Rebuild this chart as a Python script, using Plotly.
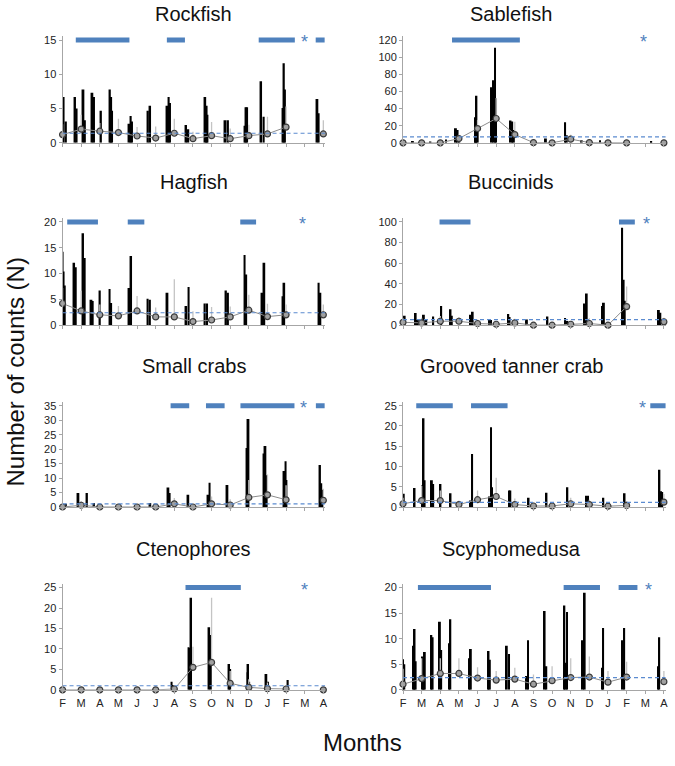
import plotly.graph_objects as go

months = ["F", "M", "A", "M", "J", "J", "A", "S", "O", "N", "D", "J", "F", "M", "A"]
month_idx = list(range(15))

# ---- Rockfish
rockfish_spike_x = [0.05, 0.18, 0.67, 0.75, 1.12, 1.2, 1.6, 1.69, 2.06, 2.54, 2.61, 2.66, 3.59, 3.66, 3.73,
                    4.58, 4.7, 5.63, 5.7, 5.77, 6.63, 6.75, 7.66, 7.73, 7.78, 8.74, 8.88, 9.77, 9.84, 9.91,
                    10.66, 10.8, 11.81, 11.88, 11.94, 13.68, 13.75]
rockfish_spike_y = [6.7, 3.1, 6.7, 5.0, 7.8, 3.3, 7.3, 6.7, 4.7, 7.8, 6.7, 4.7, 2.8, 3.9, 3.1,
                    4.7, 5.4, 5.4, 6.7, 5.8, 2.6, 2.0, 6.7, 5.4, 4.1, 3.3, 3.3, 2.5, 5.2, 5.2,
                    9.0, 3.8, 5.1, 11.6, 7.8, 6.4, 4.3]
rockfish_mean = [1.2, 2.0, 1.7, 1.5, 1.0, 0.7, 1.4, 0.6, 1.05, 0.6, 1.05, 1.3, 2.3, None, 1.3]
rockfish_sd = [1.5, 2.1, 1.2, 2.0, 1.3, 1.7, 2.1, 1.0, 2.0, 1.5, 1.6, 2.5, 3.0, None, 2.0]
rockfish_overall = 1.4
rockfish_sig_start = [0.71, 5.6, 10.53, 13.59]
rockfish_sig_end = [3.59, 6.57, 12.47, 14.07]
rockfish_star = 13.0

# ---- Sablefish
sablefish_spike_x = [0.53, 1.47, 2.31, 2.84, 2.93, 3.02, 3.87, 3.91, 3.94, 4.01, 4.76, 4.87, 4.94, 4.99,
                     5.77, 5.86, 5.95, 7.67, 8.7, 8.79, 9.59, 10.57, 13.32]
sablefish_spike_y = [2, 1.5, 4, 17, 15, 8, 9, 30, 55, 17, 65, 73, 111, 52,
                     26, 25, 15, 5, 24, 9, 3, 3, 2]
sablefish_mean = [0, 0, 0, 5, 16.7, 28.4, 9.7, 0.3, 0, 4.3, 0.3, 0, 0, None, 0]
sablefish_sd = [1, 1, 1, 4.5, 10, 24, 15, 2, 1, 5, 2, 1, 1, None, 1]
sablefish_overall = 7.0
sablefish_sig_start = [2.63]
sablefish_sig_end = [6.27]
sablefish_star = 12.9

# ---- Hagfish
hagfish_spike_x = [0.0, 0.05, 0.12, 0.62, 0.71, 1.1, 1.19, 1.55, 1.62, 2.0, 2.52, 2.61, 3.59, 3.68,
                   4.56, 4.69, 5.63, 6.64, 6.77, 7.62, 7.76, 8.77, 8.88, 9.77, 9.86, 10.73, 10.83,
                   11.81, 11.9, 13.75, 13.84]
hagfish_spike_y = [14.2, 10.4, 7.7, 12.1, 11.2, 17.8, 13.0, 4.9, 4.7, 6.7, 7.0, 4.3, 7.2, 13.4,
                   5.1, 4.9, 6.3, 3.7, 7.4, 4.2, 4.2, 6.7, 6.3, 13.6, 9.8, 6.3, 12.1,
                   5.6, 8.2, 8.2, 6.3]
hagfish_mean = [4.2, 2.75, 2.0, 1.8, 2.75, 1.6, 1.6, 0.7, 1.0, 1.6, 2.9, 1.66, 2.0, None, 2.0]
hagfish_sd = [3.0, 3.9, 2.0, 1.9, 2.9, 1.8, 7.3, 2.0, 2.5, 2.0, 3.0, 2.5, 2.0, None, 2.0]
hagfish_overall = 2.4
hagfish_sig_start = [0.25, 3.5, 9.54]
hagfish_sig_end = [1.9, 4.39, 10.39]
hagfish_star = 12.9

# ---- Buccinids
buccinids_spike_x = [0.09, 0.68, 0.8, 1.12, 1.25, 1.62, 2.05, 2.55, 2.62, 3.62, 3.74, 4.65, 4.72, 5.65, 5.72,
                     6.65, 7.75, 8.7, 8.82, 9.75, 9.86, 10.7, 10.78, 11.76, 11.84, 11.9, 13.73, 13.81]
buccinids_spike_y = [9, 11.7, 5, 10, 6, 8.5, 18.6, 15.5, 9, 10, 13, 5, 5, 10.7, 8,
                     5.4, 8.5, 7, 4, 21, 30.6, 18.6, 21.8, 94.3, 44, 23.7, 14.8, 12]
buccinids_mean = [2.8, 2.2, 3.8, 3.8, 1.6, 0.9, 2.2, 0, 0, 0.9, 1.6, 0, 18, None, 3.2]
buccinids_sd = [4, 5, 5, 4, 4, 3, 4, 2, 2, 3, 5, 3, 19.5, None, 4]
buccinids_overall = 5.4
buccinids_sig_start = [1.96, 11.59]
buccinids_sig_end = [3.62, 12.44]
buccinids_star = 13.05

# ---- Small crabs
crabs_spike_x = [0.18, 0.85, 1.31, 1.69, 4.71, 5.68, 5.75, 6.75, 7.82, 7.89, 8.85, 9.88, 9.93, 9.98,
                 10.8, 10.89, 10.96, 11.9, 11.97, 12.02, 13.82, 13.89, 13.95]
crabs_spike_y = [1.1, 4.8, 4.8, 1.4, 1.4, 6.7, 4.8, 4.2, 4.2, 8.4, 7.6, 20.4, 13.6, 30.4,
                 18.5, 21.1, 11.0, 12.4, 15.8, 9.3, 14.5, 8.2, 6.0]
crabs_mean = [0, 0.6, 0, 0, 0, 0, 1.1, 0, 1.1, 0.7, 3.3, 4.2, 2.5, None, 2.3]
crabs_sd = [0.5, 1.5, 0.3, 0.3, 0.3, 0.3, 2, 0.5, 2.5, 2, 6, 7, 5, None, 4]
crabs_overall = 1.1
crabs_sig_start = [5.8, 7.7, 9.55, 13.6]
crabs_sig_end = [6.8, 8.7, 12.45, 14.07]
crabs_star = 12.95

# ---- Grooved tanner crab
tanner_spike_x = [0.04, 0.62, 1.02, 1.1, 1.16, 1.55, 1.62, 2.01, 2.55, 3.62, 3.71, 4.63, 4.72, 4.78,
                  5.7, 5.76, 6.74, 7.7, 8.82, 9.82, 9.93, 10.75, 11.89, 13.76, 13.85, 13.91]
tanner_spike_y = [3.3, 4.7, 5.3, 21.9, 6.6, 6.6, 5.7, 5.7, 3.4, 1.6, 13.1, 2.6, 19.7, 4.9,
                  4.1, 4.1, 2.3, 3.5, 4.9, 2.8, 2.8, 2.3, 3.4, 9.2, 3.9, 3.7]
tanner_mean = [0.8, 1.6, 1.6, 0.6, 1.8, 2.6, 0.6, 0.25, 0.25, 0.8, 0.6, 0.2, 0.4, None, 1.2]
tanner_sd = [1.5, 3.6, 2.5, 1.0, 2.3, 4.6, 1.5, 0.8, 0.8, 1.5, 1.2, 0.8, 1.0, None, 2.0]
tanner_overall = 1.15
tanner_sig_start = [0.71, 3.65, 13.27]
tanner_sig_end = [2.67, 5.61, 14.1]
tanner_star = 12.83

# ---- Ctenophores
cteno_spike_x = [5.85, 5.92, 6.77, 6.83, 6.9, 7.87, 7.96, 8.94, 9.0, 9.93, 9.96, 10.02, 10.94, 11.03, 12.09]
cteno_spike_y = [2.0, 1.2, 10.4, 10.2, 22.5, 15.3, 13.4, 6.3, 5.1, 4.3, 6.3, 2.0, 3.9, 2.0, 2.4]
cteno_mean = [0, 0, 0, 0, 0, 0, 0.2, 5.5, 6.7, 1.6, 0.6, 0.3, 0.2, None, 0]
cteno_sd = [0, 0, 0, 0, 0, 0, 1.0, 5.0, 15.8, 3.0, 2.0, 1.5, 1.0, None, 0]
cteno_overall = 1.0
cteno_sig_start = [6.6]
cteno_sig_end = [9.57]
cteno_star = 12.98

# ---- Scyphomedusa
scypho_spike_x = [0.0, 0.07, 0.57, 0.62, 0.68, 1.06, 1.12, 1.17, 1.52, 1.59, 1.98, 2.05, 2.47, 2.54,
                  3.57, 3.64, 4.59, 4.66, 5.57, 5.69, 6.63, 6.71, 7.6, 7.69, 8.66, 8.73, 8.8,
                  9.65, 9.75, 10.69, 10.74, 11.78, 11.87, 13.69, 13.75]
scypho_spike_y = [6.0, 5.0, 8.6, 11.9, 5.6, 6.5, 5.0, 7.4, 10.7, 10.3, 13.3, 7.8, 9.1, 13.8,
                  6.2, 8.0, 7.6, 5.9, 8.6, 7.0, 2.7, 9.7, 15.4, 4.6, 16.5, 5.3, 15.2,
                  9.7, 19.0, 4.3, 12.1, 9.7, 12.1, 4.6, 10.3]
scypho_mean = [1.1, 2.2, 3.2, 3.2, 2.3, 1.9, 2.1, 1.1, 1.8, 2.4, 2.5, 1.5, 2.5, None, 1.6]
scypho_sd = [3, 4, 3, 3.0, 2.1, 1.8, 2.2, 1.9, 2.8, 3.8, 4.0, 2.2, 3, None, 2.1]
scypho_overall = 2.4
scypho_sig_start = [0.8, 8.62, 11.57]
scypho_sig_end = [4.72, 10.57, 12.58]
scypho_star = 13.2

titles = ["Rockfish", "Sablefish", "Hagfish", "Buccinids",
          "Small crabs", "Grooved tanner crab", "Ctenophores", "Scyphomedusa"]
y_max = [15, 120, 20, 100, 35, 25, 25, 20]
y_step = [5, 20, 5, 20, 5, 5, 5, 5]

panels = [
    (rockfish_spike_x, rockfish_spike_y, rockfish_mean, rockfish_sd, rockfish_overall,
     rockfish_sig_start, rockfish_sig_end, rockfish_star),
    (sablefish_spike_x, sablefish_spike_y, sablefish_mean, sablefish_sd, sablefish_overall,
     sablefish_sig_start, sablefish_sig_end, sablefish_star),
    (hagfish_spike_x, hagfish_spike_y, hagfish_mean, hagfish_sd, hagfish_overall,
     hagfish_sig_start, hagfish_sig_end, hagfish_star),
    (buccinids_spike_x, buccinids_spike_y, buccinids_mean, buccinids_sd, buccinids_overall,
     buccinids_sig_start, buccinids_sig_end, buccinids_star),
    (crabs_spike_x, crabs_spike_y, crabs_mean, crabs_sd, crabs_overall,
     crabs_sig_start, crabs_sig_end, crabs_star),
    (tanner_spike_x, tanner_spike_y, tanner_mean, tanner_sd, tanner_overall,
     tanner_sig_start, tanner_sig_end, tanner_star),
    (cteno_spike_x, cteno_spike_y, cteno_mean, cteno_sd, cteno_overall,
     cteno_sig_start, cteno_sig_end, cteno_star),
    (scypho_spike_x, scypho_spike_y, scypho_mean, scypho_sd, scypho_overall,
     scypho_sig_start, scypho_sig_end, scypho_star),
]

W, H = 675, 766
BLUE = "#4F81BD"
AXIS = "#a6a6a6"
FONT = "Liberation Sans, Arial, sans-serif"
X_END = 14.1
PAD = 1.035

# pixel layout of the plot areas (value 0 and value max), per row / column
col_px = [(60, 324.6), (403, 667.7)]
row_px = [(37.5, 141.5), (221.5, 326), (407.5, 510), (591.5, 695)]
title_px = [11, 181, 367, 552]
title_cx = [192, 512]

fig = go.Figure()
layout = {}

for i, (sx, sy, mean, sd, overall, s0, s1, star) in enumerate(panels):
    r, c = divmod(i, 2)
    n = "" if i == 0 else str(i + 1)
    xa, ya = "x" + n, "y" + n
    top, bot = row_px[r]
    h = (bot - top) * PAD
    left, right = col_px[c]
    ymax = y_max[i]

    fig.add_trace(go.Scatter(
        x=month_idx, y=mean, mode="markers", xaxis=xa, yaxis=ya,
        marker=dict(size=1, opacity=0),
        error_y=dict(type="data", symmetric=False, array=sd,
                     arrayminus=[0] * len(sd), color="#c4c4c4", thickness=1.3, width=0),
        hoverinfo="skip"))
    fig.add_trace(go.Bar(
        x=sx, y=sy, width=0.1, xaxis=xa, yaxis=ya,
        marker=dict(color="#000000", line=dict(width=0))))
    fig.add_trace(go.Scatter(
        x=month_idx, y=mean, mode="lines+markers", xaxis=xa, yaxis=ya, cliponaxis=False,
        line=dict(color="#8c8c8c", width=1),
        marker=dict(size=6, color="#a0a0a0", line=dict(color="#3a3a3a", width=1.2))))

    fig.add_shape(type="line", xref=xa, yref=ya, x0=0, x1=X_END, y0=overall, y1=overall,
                  line=dict(color="#5b8bd0", width=1.2, dash="4px,3px"))
    for a, b in zip(s0, s1):
        fig.add_shape(type="line", xref=xa, yref=ya, x0=a, x1=b, y0=ymax, y1=ymax,
                      line=dict(color=BLUE, width=5))
    fig.add_annotation(x=star, y=ymax, xref=xa, yref=ya, text="*", showarrow=False,
                       xanchor="center", yanchor="middle", yshift=-2,
                       font=dict(size=18, color=BLUE, family=FONT))
    fig.add_annotation(x=title_cx[c] / W, y=1 - title_px[r] / H, xref="paper", yref="paper",
                       text=titles[i], showarrow=False, xanchor="center", yanchor="middle",
                       font=dict(size=20, color="#111111", family=FONT))

    layout["xaxis" + n] = dict(
        domain=[left / W, right / W], anchor=ya, range=[0, X_END],
        tickvals=month_idx, ticktext=months, showticklabels=(r == 3),
        showline=True, linecolor=AXIS, linewidth=1, ticks="outside", ticklen=3,
        tickcolor=AXIS, showgrid=False, zeroline=False, fixedrange=True,
        tickfont=dict(size=11, color="#222222", family=FONT))
    layout["yaxis" + n] = dict(
        domain=[1 - bot / H, 1 - (bot - h) / H], anchor=xa, range=[0, ymax * PAD],
        tickvals=list(range(0, ymax + 1, y_step[i])),
        showline=True, linecolor=AXIS, linewidth=1, ticks="outside", ticklen=3,
        tickcolor=AXIS, showgrid=False, zeroline=False, fixedrange=True,
        tickfont=dict(size=11, color="#222222", family=FONT))

fig.add_annotation(x=13 / W, y=1 - 373 / H, xref="paper", yref="paper", text="Number of counts (N)",
                   textangle=-90, showarrow=False, xanchor="center", yanchor="middle",
                   font=dict(size=24, color="#111111", family=FONT))
fig.add_annotation(x=362 / W, y=1 - 748 / H, xref="paper", yref="paper", text="Months",
                   showarrow=False, xanchor="center", yanchor="middle",
                   font=dict(size=24, color="#111111", family=FONT))

fig.update_layout(width=W, height=H, margin=dict(l=0, r=0, t=0, b=0),
                  paper_bgcolor="white", plot_bgcolor="white", showlegend=False,
                  barmode="overlay", **layout)

# the page body has a default 8px margin; drop it so the figure fills the window
fig.write_html("out.html", config={"displayModeBar": False},
               post_script="document.body.style.margin = '0';")
